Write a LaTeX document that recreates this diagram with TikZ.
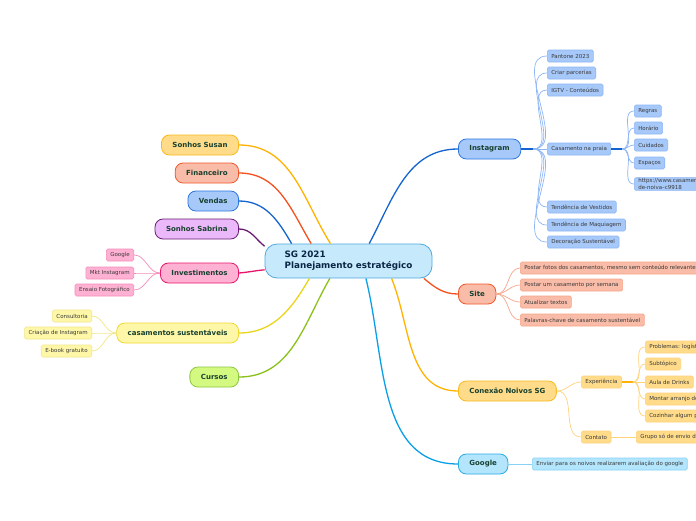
\documentclass[tikz,border=0pt]{standalone}
\usepackage{fontspec}
\setmainfont{DejaVu Sans}
\definecolor{rootfill}{HTML}{C6EAFC}
\definecolor{rootline}{HTML}{4FA8DE}
\definecolor{roottext}{HTML}{0B2545}
\definecolor{topictext}{HTML}{17402F}
\definecolor{subtext}{HTML}{3A3A3A}
\definecolor{bluefill}{HTML}{A7C9FA}
\definecolor{blueline}{HTML}{2B76DE}
\definecolor{bluelink}{HTML}{1565D0}
\definecolor{bluetwig}{HTML}{8DB6F5}
\definecolor{redfill}{HTML}{F9BCA8}
\definecolor{redline}{HTML}{F0562A}
\definecolor{redlink}{HTML}{F4511E}
\definecolor{redtwig}{HTML}{F7A58A}
\definecolor{amberfill}{HTML}{FFDB8A}
\definecolor{amberline}{HTML}{F9BA1E}
\definecolor{amberlink}{HTML}{FFB300}
\definecolor{ambertwig}{HTML}{FFD37C}
\definecolor{purplefill}{HTML}{EBB9F9}
\definecolor{purpleline}{HTML}{6A1B74}
\definecolor{pinkfill}{HTML}{FFB1D3}
\definecolor{pinkline}{HTML}{E8166A}
\definecolor{pinktwig}{HTML}{F58DBB}
\definecolor{yellowfill}{HTML}{FFF7A8}
\definecolor{yellowline}{HTML}{F0D830}
\definecolor{yellowlink}{HTML}{EAD51A}
\definecolor{yellowtwig}{HTML}{F3E68A}
\definecolor{limefill}{HTML}{D4F981}
\definecolor{limeline}{HTML}{8CC63F}
\definecolor{limelink}{HTML}{8BC21A}
\definecolor{cyanfill}{HTML}{B3E6FD}
\definecolor{cyanline}{HTML}{2AA8E4}
\definecolor{cyanlink}{HTML}{0AA0E8}
\definecolor{cyantwig}{HTML}{86D3F5}
\begin{document}
\begin{tikzpicture}[x=1pt,y=-1pt,
  topic/.style={draw, line width=0.8pt, rounded corners=8pt, minimum height=20pt, inner xsep=11pt, inner ysep=0pt, font=\fontsize{7}{8}\selectfont\bfseries, text=topictext},
  sub/.style={draw, line width=0.6pt, rounded corners=1.5pt, minimum height=12pt, inner xsep=4pt, inner ysep=1pt, align=left, font=\fontsize{5.5}{6.4}\selectfont, text=subtext},
  link/.style={line width=1.3pt},
  twig/.style={line width=0.7pt}]
\clip (0,0) rectangle (696,520);
\fill[white] (0,0) rectangle (696,520);
\node[draw=rootline, fill=rootfill, line width=0.8pt, rounded corners=12pt, minimum width=167pt, minimum height=34pt, align=left, font=\fontsize{8.8}{11}\selectfont\bfseries, text=roottext] (sg) at (348.5,261) {SG 2021\\Planejamento estratégico};
% left side
\node[topic, fill=amberfill, draw=amberline, anchor=east] (susan) at (239,145) {Sonhos Susan};
\node[topic, fill=redfill, draw=redline, anchor=east] (fin) at (239,173) {Financeiro};
\node[topic, fill=bluefill, draw=blueline, anchor=east] (vendas) at (239,201) {Vendas};
\node[topic, fill=purplefill, draw=purpleline, anchor=east] (sabrina) at (239,229) {Sonhos Sabrina};
\node[topic, fill=pinkfill, draw=pinkline, anchor=east] (invest) at (239,273) {Investimentos};
\node[topic, fill=yellowfill, draw=yellowline, anchor=east] (sust) at (239,333) {casamentos sustentáveis};
\node[topic, fill=limefill, draw=limeline, anchor=east] (cursos) at (239,377) {Cursos};
\draw[link, amberlink] (susan.east) to[out=0,in=122] (sg.136);
\draw[link, redlink] (fin.east) to[out=0,in=121] (sg.155);
\draw[link, bluelink] (vendas.east) to[out=0,in=120] (sg.163);
\draw[link, purpleline] (sabrina.east) to[out=0,in=142] (sg.170);
\draw[link, pinkline] (invest.east) to[out=5,in=185] (sg.186);
\draw[link, yellowlink] (sust.east) to[out=0,in=240] (sg.204);
\draw[link, limelink] (cursos.east) to[out=0,in=240] (sg.223);
\node[sub, fill=pinkfill, draw=pinktwig, anchor=east] (ggl) at (134,255) {Google};
\node[sub, fill=pinkfill, draw=pinktwig, anchor=east] (mkt) at (134,273) {Mkt Instagram};
\node[sub, fill=pinkfill, draw=pinktwig, anchor=east] (ensaio) at (134,290) {Ensaio Fotográfico};
\draw[twig, pinktwig] (invest.west) to[out=180,in=0] (ggl.east);
\draw[twig, pinktwig] (invest.west) to[out=180,in=0] (mkt.east);
\draw[twig, pinktwig] (invest.west) to[out=180,in=0] (ensaio.east);
\node[sub, fill=yellowfill, draw=yellowtwig, anchor=east] (consult) at (92,316) {Consultoria};
\node[sub, fill=yellowfill, draw=yellowtwig, anchor=east] (criacao) at (92,333) {Criação de Instagram};
\node[sub, fill=yellowfill, draw=yellowtwig, anchor=east] (ebook) at (92,351) {E-book gratuito};
\draw[twig, yellowtwig] (sust.west) to[out=180,in=0] (consult.east);
\draw[twig, yellowtwig] (sust.west) to[out=180,in=0] (criacao.east);
\draw[twig, yellowtwig] (sust.west) to[out=180,in=0] (ebook.east);
% right side
\node[topic, fill=bluefill, draw=blueline, anchor=west] (ig) at (458,149) {Instagram};
\node[topic, fill=redfill, draw=redline, anchor=west] (site) at (458,294) {Site};
\node[topic, fill=amberfill, draw=amberline, anchor=west] (conexao) at (458,391) {Conexão Noivos SG};
\node[topic, fill=cyanfill, draw=cyanline, anchor=west] (google) at (458,464) {Google};
\draw[link, bluelink] (sg.40) to[out=62,in=180] (ig.west);
\draw[link, redlink] (sg.347) to[out=-40,in=180] (site.west);
\draw[link, amberlink] (sg.338) to[out=-68,in=180] (conexao.west);
\draw[link, cyanlink] (sg.315) to[out=-76,in=180] (google.west);
\coordinate (igfork) at ([xshift=12pt]ig.east);
\draw[link, bluelink] (ig.east) -- (igfork);
\node[sub, fill=bluefill, draw=bluetwig, anchor=west] (pantone) at (547,56) {Pantone 2023};
\node[sub, fill=bluefill, draw=bluetwig, anchor=west] (parcerias) at (547,73) {Criar parcerias};
\node[sub, fill=bluefill, draw=bluetwig, anchor=west] (igtv) at (547,90) {IGTV - Conteúdos};
\node[sub, fill=bluefill, draw=bluetwig, anchor=west] (praia) at (547,149) {Casamento na praia};
\node[sub, fill=bluefill, draw=bluetwig, anchor=west] (vestidos) at (547,207) {Tendência de Vestidos};
\node[sub, fill=bluefill, draw=bluetwig, anchor=west] (maquiagem) at (547,225) {Tendência de Maquiagem};
\node[sub, fill=bluefill, draw=bluetwig, anchor=west] (decoracao) at (547,242) {Decoração Sustentável};
\draw[twig, bluetwig] (igfork) to[out=0,in=180] (pantone.west);
\draw[twig, bluetwig] (igfork) to[out=0,in=180] (parcerias.west);
\draw[twig, bluetwig] (igfork) to[out=0,in=180] (igtv.west);
\draw[twig, bluetwig] (igfork) -- (praia.west);
\draw[twig, bluetwig] (igfork) to[out=0,in=180] (vestidos.west);
\draw[twig, bluetwig] (igfork) to[out=0,in=180] (maquiagem.west);
\draw[twig, bluetwig] (igfork) to[out=0,in=180] (decoracao.west);
\coordinate (praiafork) at ([xshift=11pt]praia.east);
\draw[link, bluelink] (praia.east) -- (praiafork);
\node[sub, fill=bluefill, draw=bluetwig, anchor=west] (regras) at (634,111) {Regras};
\node[sub, fill=bluefill, draw=bluetwig, anchor=west] (horario) at (634,128) {Horário};
\node[sub, fill=bluefill, draw=bluetwig, anchor=west] (cuidados) at (634,145) {Cuidados};
\node[sub, fill=bluefill, draw=bluetwig, anchor=west] (espacos) at (634,163) {Espaços};
\node[sub, fill=bluefill, draw=bluetwig, anchor=west] (url) at (634,184) {https://www.casamentos.com.br/artigos/vestido-\\de-noiva--c9918};
\draw[twig, bluetwig] (praiafork) to[out=0,in=180] (regras.west);
\draw[twig, bluetwig] (praiafork) to[out=0,in=180] (horario.west);
\draw[twig, bluetwig] (praiafork) to[out=0,in=180] (cuidados.west);
\draw[twig, bluetwig] (praiafork) to[out=0,in=180] (espacos.west);
\draw[twig, bluetwig] (praiafork) to[out=0,in=180] (url.west);
\node[sub, fill=redfill, draw=redtwig, anchor=west] (fotos) at (520,268) {Postar fotos dos casamentos, mesmo sem conteúdo relevante};
\node[sub, fill=redfill, draw=redtwig, anchor=west] (semana) at (520,285) {Postar um casamento por semana};
\node[sub, fill=redfill, draw=redtwig, anchor=west] (textos) at (520,302) {Atualizar textos};
\node[sub, fill=redfill, draw=redtwig, anchor=west] (palavras) at (520,320) {Palavras-chave de casamento sustentável};
\draw[twig, redtwig] (site.east) to[out=0,in=180] (fotos.west);
\draw[twig, redtwig] (site.east) to[out=0,in=180] (semana.west);
\draw[twig, redtwig] (site.east) to[out=0,in=180] (textos.west);
\draw[twig, redtwig] (site.east) to[out=0,in=180] (palavras.west);
\node[sub, fill=amberfill, draw=ambertwig, anchor=west] (exp) at (581,382) {Experiência};
\node[sub, fill=amberfill, draw=ambertwig, anchor=west] (contato) at (581,437) {Contato};
\draw[twig, ambertwig] (conexao.east) to[out=0,in=180] (exp.west);
\draw[twig, ambertwig] (conexao.east) to[out=0,in=180] (contato.west);
\coordinate (expfork) at ([xshift=11pt]exp.east);
\draw[link, amberlink] (exp.east) -- (expfork);
\node[sub, fill=amberfill, draw=ambertwig, anchor=west] (prob) at (645,347) {Problemas: logística};
\node[sub, fill=amberfill, draw=ambertwig, anchor=west] (subt) at (645,364) {Subtópico};
\node[sub, fill=amberfill, draw=ambertwig, anchor=west] (drinks) at (645,382) {Aula de Drinks};
\node[sub, fill=amberfill, draw=ambertwig, anchor=west] (arranjo) at (645,399) {Montar arranjo de flores};
\node[sub, fill=amberfill, draw=ambertwig, anchor=west] (cozinhar) at (645,416) {Cozinhar algum prato};
\draw[twig, ambertwig] (expfork) to[out=0,in=180] (prob.west);
\draw[twig, ambertwig] (expfork) to[out=0,in=180] (subt.west);
\draw[twig, ambertwig] (expfork) -- (drinks.west);
\draw[twig, ambertwig] (expfork) to[out=0,in=180] (arranjo.west);
\draw[twig, ambertwig] (expfork) to[out=0,in=180] (cozinhar.west);
\node[sub, fill=amberfill, draw=ambertwig, anchor=west] (grupo) at (636,437) {Grupo só de envio de mensagens};
\draw[twig, ambertwig] (contato.east) -- (grupo.west);
\node[sub, fill=cyanfill, draw=cyantwig, anchor=west] (enviar) at (532,464) {Enviar para os noivos realizarem avaliação do google};
\draw[twig, cyantwig] (google.east) -- (enviar.west);
\end{tikzpicture}
\end{document}
